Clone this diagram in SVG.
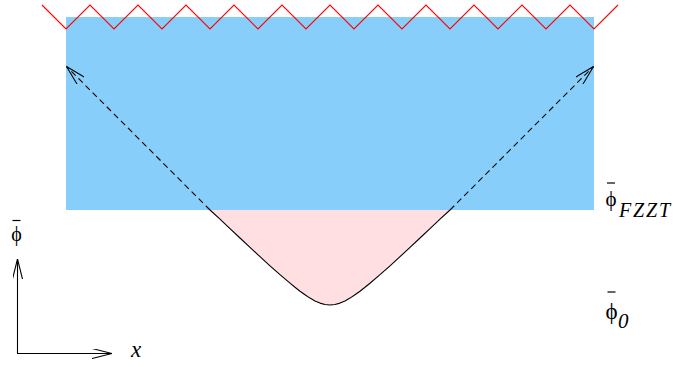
<svg xmlns="http://www.w3.org/2000/svg" width="674" height="367" viewBox="0 0 674 367">
<style>
.ln{fill:none;stroke:#000;stroke-width:1.1}
.dash{fill:none;stroke:#000;stroke-width:1.1;stroke-dasharray:6,4}
.bar{stroke:#000;stroke-width:1.2}
.lbl{font-family:'Liberation Serif','Times New Roman','DejaVu Serif',serif;fill:#000}
</style>
<defs>
<marker id="arr" viewBox="0 0 20 10" refX="20" refY="5" markerWidth="20" markerHeight="10" markerUnits="userSpaceOnUse" orient="auto">
<path d="M0,0 L20,5 L0,10" fill="none" stroke="#000" stroke-width="1.1" stroke-dasharray="none"/>
</marker>
</defs>
<g id="region">
<rect x="66" y="17" width="528" height="193" fill="#87cefa"/>
<path d="M210,210 L220,219.1 L230,228.6 L240,238 L250,247.4 L260,256.7 L270,265.8 L280,274.7 L290,283.2 L295,287.3 L300,291.2 L305,294.8 L310,298.1 L315,300.9 L320,303.1 L325,304.5 L330,305 L335,304.5 L340,303.1 L345,300.9 L350,298.1 L355,294.8 L360,291.2 L365,287.3 L370,283.2 L380,274.7 L390,265.8 L400,256.7 L410,247.4 L420,238 L430,228.6 L440,219.1 L450,210 Z" fill="#ffdfe2"/>
</g>
<g id="boundary">
<polyline points="42,5 66,29 90,5 114,29 138,5 162,29 186,5 210,29 234,5 258,29 282,5 306,29 330,5 354,29 378,5 402,29 426,5 450,29 474,5 498,29 522,5 546,29 570,5 594,29 618,5" fill="none" stroke="#ff0000" stroke-width="1.1"/>
</g>
<g id="curve">
<path class="ln" stroke-linejoin="round" d="M210,210 L220,219.1 L230,228.6 L240,238 L250,247.4 L260,256.7 L270,265.8 L280,274.7 L290,283.2 L295,287.3 L300,291.2 L305,294.8 L310,298.1 L315,300.9 L320,303.1 L325,304.5 L330,305 L335,304.5 L340,303.1 L345,300.9 L350,298.1 L355,294.8 L360,291.2 L365,287.3 L370,283.2 L380,274.7 L390,265.8 L400,256.7 L410,247.4 L420,238 L430,228.6 L440,219.1 L450,210"/>
</g>
<g id="connectors">
<line class="dash" x1="210" y1="210" x2="66.5" y2="66.5" marker-end="url(#arr)"/>
<line class="dash" x1="450" y1="210" x2="593.5" y2="66.5" marker-end="url(#arr)"/>
<line class="ln" x1="17.5" y1="353.5" x2="17.5" y2="259" marker-end="url(#arr)"/>
<line class="ln" x1="17" y1="353.5" x2="112" y2="353.5" marker-end="url(#arr)"/>
</g>
<g id="labels">
<text class="lbl" x="16.5" y="241" font-size="20" text-anchor="middle">ϕ</text>
<line class="bar" x1="12.5" y1="220.5" x2="20.5" y2="220.5"/>
<text class="lbl" x="131" y="357" font-size="23" font-style="italic">x</text>
<text class="lbl" x="611" y="206" font-size="21" text-anchor="middle">ϕ</text>
<line class="bar" x1="607" y1="183" x2="615" y2="183"/>
<text class="lbl" x="619" y="216.5" font-size="20" font-style="italic" textLength="51" lengthAdjust="spacing">FZZT</text>
<text class="lbl" x="611.5" y="319" font-size="23" text-anchor="middle">ϕ</text>
<line class="bar" x1="607.5" y1="292" x2="615.5" y2="292"/>
<text class="lbl" x="618" y="327.5" font-size="21" font-style="italic">0</text>
</g>
</svg>
